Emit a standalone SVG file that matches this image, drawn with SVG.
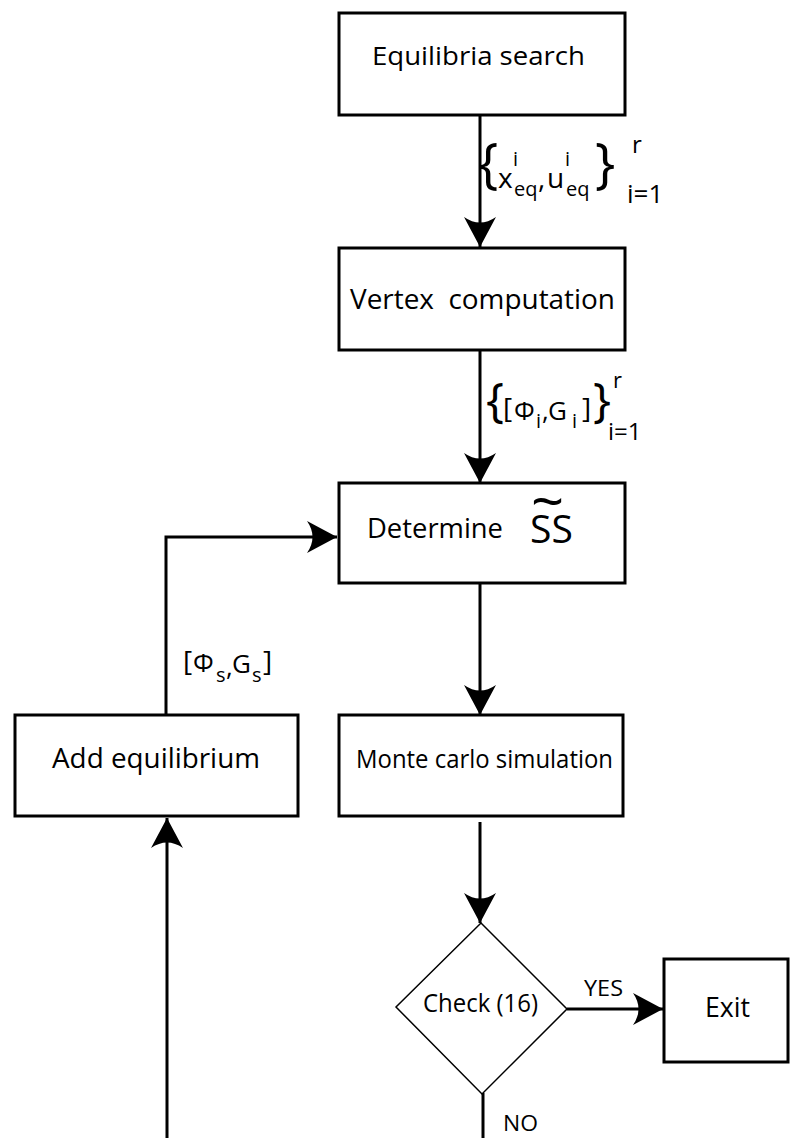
<svg xmlns="http://www.w3.org/2000/svg" width="790" height="1138" viewBox="0 0 790 1138">
<style>
.box{fill:#fff;stroke:#000;stroke-width:3}
.dia{fill:#fff;stroke:#000;stroke-width:1.5}
.con{fill:none;stroke:#000;stroke-width:3}
text{font-family:"Open Sans","Noto Sans","Liberation Sans",sans-serif;fill:#000}
.lb{font-size:28px}
.sm{font-size:20px}
.br{font-size:54px}
</style>
<defs>
<marker id="ah" markerUnits="userSpaceOnUse" viewBox="0 0 30 32" markerWidth="30" markerHeight="32" refX="30" refY="16" orient="auto">
<path d="M30,16 L0,0 Q11,16 0,32 Z" fill="#000"/>
</marker>
</defs>
<rect width="790" height="1138" fill="#fff"/>
<g id="connectors">
<line class="con" x1="480" y1="115" x2="480" y2="247" marker-end="url(#ah)"/>
<line class="con" x1="480" y1="350" x2="480" y2="483" marker-end="url(#ah)"/>
<line class="con" x1="480" y1="583" x2="480" y2="715" marker-end="url(#ah)"/>
<line class="con" x1="480" y1="822" x2="480" y2="923" marker-end="url(#ah)"/>
<line class="con" x1="567" y1="1009" x2="663" y2="1009" marker-end="url(#ah)"/>
<line class="con" x1="483" y1="1093" x2="483" y2="1138"/>
<line class="con" x1="167" y1="1138" x2="167" y2="818" marker-end="url(#ah)"/>
<polyline class="con" points="166,715 166,537 337,537" marker-end="url(#ah)"/>
<text id="label-eq" class="lb"><tspan x="478" y="182" class="br">{</tspan><tspan x="498" y="188">x</tspan><tspan x="513" y="166" class="sm">i</tspan><tspan x="514" y="196" class="sm">eq</tspan><tspan x="538" y="188">,</tspan><tspan x="547" y="188">u</tspan><tspan x="565" y="166" class="sm">i</tspan><tspan x="566" y="196" class="sm">eq</tspan><tspan x="595" y="182" class="br">}</tspan><tspan x="632" y="153" style="font-size:24px">r</tspan><tspan x="627" y="203" style="font-size:26px">i=1</tspan></text>
<text id="label-vert" class="lb"><tspan x="486" y="417" style="font-size:48px">{</tspan><tspan x="503" y="418">[</tspan><tspan x="514" y="420" style="font-size:26px">Φ</tspan><tspan x="536" y="428" class="sm">i</tspan><tspan x="542" y="420" style="font-size:26px">,</tspan><tspan x="548" y="420" style="font-size:26px">G</tspan><tspan x="572" y="428" class="sm">i</tspan><tspan x="582" y="418">]</tspan><tspan x="593" y="417" style="font-size:48px">}</tspan><tspan x="613" y="388" style="font-size:22px">r</tspan><tspan x="608" y="440" style="font-size:24px">i=1</tspan></text>
<text id="label-add" class="lb"><tspan x="183" y="671">[</tspan><tspan x="193" y="672" style="font-size:26px">Φ</tspan><tspan x="216" y="682" class="sm">s</tspan><tspan x="226" y="676" style="font-size:26px">,</tspan><tspan x="232" y="673" style="font-size:26px">G</tspan><tspan x="252" y="682" class="sm">s</tspan><tspan x="263" y="671">]</tspan></text>
<text x="584" y="996" style="font-size:22px" textLength="39" lengthAdjust="spacingAndGlyphs">YES</text>
<text x="503" y="1131" style="font-size:22px" textLength="35" lengthAdjust="spacingAndGlyphs">NO</text>
</g>
<g id="node-equilibria">
<rect class="box" x="339" y="13" width="286" height="102"/>
<text x="372" y="65" style="font-size:26px" textLength="213" lengthAdjust="spacingAndGlyphs">Equilibria search</text>
</g>
<g id="node-vertex">
<rect class="box" x="339" y="248" width="286" height="102"/>
<text x="350" y="309" class="lb" textLength="265" lengthAdjust="spacingAndGlyphs">Vertex&#160; computation</text>
</g>
<g id="node-determine">
<rect class="box" x="339" y="483" width="286" height="100"/>
<text x="367" y="538" class="lb" textLength="136" lengthAdjust="spacingAndGlyphs">Determine</text>
<text style="font-size:39px"><tspan x="530" y="543">SS</tspan><tspan x="531" y="522" style="font-size:58px">~</tspan></text>
</g>
<g id="node-add">
<rect class="box" x="15" y="715" width="283" height="101"/>
<text x="52" y="768" class="lb" textLength="208" lengthAdjust="spacingAndGlyphs">Add equilibrium</text>
</g>
<g id="node-monte">
<rect class="box" x="339" y="715" width="284" height="101"/>
<text x="356" y="768" style="font-size:25px" textLength="257" lengthAdjust="spacingAndGlyphs">Monte carlo simulation</text>
</g>
<g id="node-check">
<polygon class="dia" points="481,923 567,1009 482,1094 396,1007"/>
<text x="423" y="1012" style="font-size:25px" textLength="115" lengthAdjust="spacingAndGlyphs">Check (16)</text>
</g>
<g id="node-exit">
<rect class="box" x="664" y="959" width="124" height="103"/>
<text x="705" y="1017" style="font-size:27px" textLength="45" lengthAdjust="spacingAndGlyphs">Exit</text>
</g>
</svg>
